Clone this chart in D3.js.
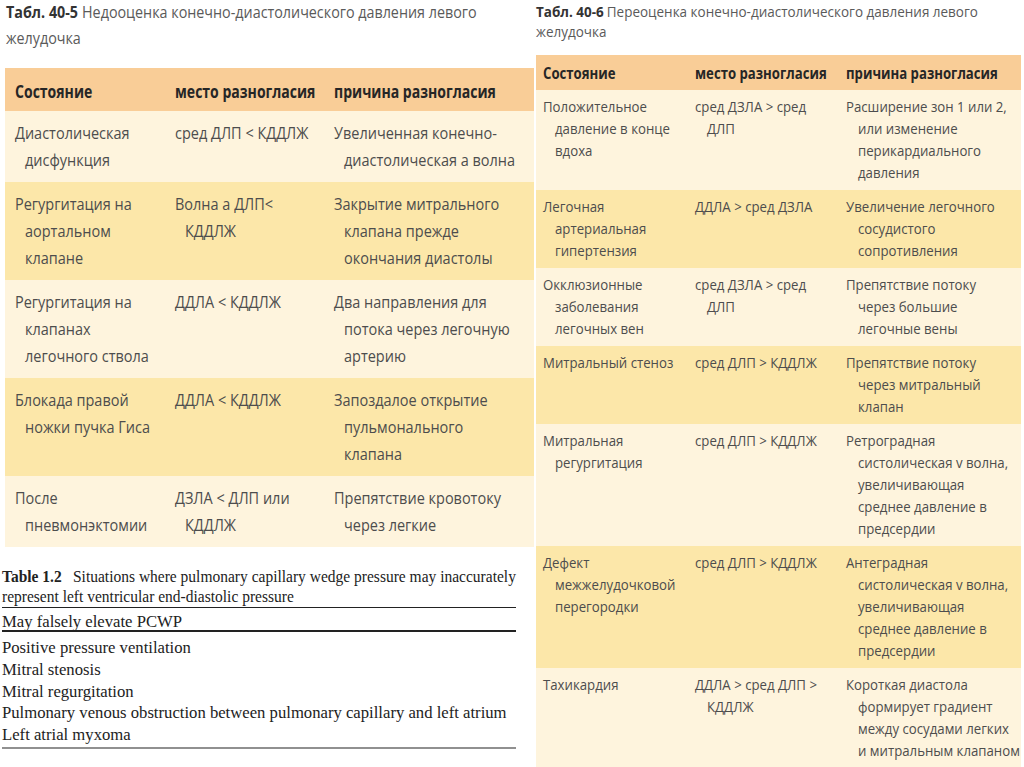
<!DOCTYPE html>
<html><head><meta charset="utf-8">
<script src="https://cdn.jsdelivr.net/npm/d3@7"></script>
<style>body{margin:0;background:#fff}svg{display:block}</style>
</head><body>
<svg id="c" width="1024" height="767"></svg>
<script>
// ---------- DATA ----------
const headers = ["Состояние", "место разногласия", "причина разногласия"];

const leftTitleBold = "Табл. 40-5";
const leftTitleLines = ["Недооценка конечно-диастолического давления левого", "желудочка"];
const leftConditions = [["Диастолическая","дисфункция"],["Регургитация на","аортальном","клапане"],["Регургитация на","клапанах","легочного ствола"],["Блокада правой","ножки пучка Гиса"],["После","пневмонэктомии"]];
const leftPlaces = [["сред ДЛП < КДДЛЖ"],["Волна а ДЛП<","КДДЛЖ"],["ДДЛА < КДДЛЖ"],["ДДЛА < КДДЛЖ"],["ДЗЛА < ДЛП  или","КДДЛЖ"]];
const leftReasons = [["Увеличенная конечно-","диастолическая а волна"],["Закрытие митрального","клапана прежде","окончания диастолы"],["Два направления для","потока через легочную","артерию"],["Запоздалое открытие","пульмонального","клапана"],["Препятствие кровотоку","через легкие"]];

const rightTitleBold = "Табл. 40-6";
const rightTitleLines = ["Переоценка конечно-диастолического давления левого", "желудочка"];
const rightConditions = [["Положительное","давление в конце","вдоха"],["Легочная","артериальная","гипертензия"],["Окклюзионные","заболевания","легочных вен"],["Митральный стеноз"],["Митральная","регургитация"],["Дефект","межжелудочковой","перегородки"],["Тахикардия"]];
const rightPlaces = [["сред ДЗЛА > сред","ДЛП"],["ДДЛА > сред ДЗЛА"],["сред ДЗЛА  > сред","ДЛП"],["сред ДЛП  > КДДЛЖ"],["сред ДЛП  > КДДЛЖ"],["сред ДЛП  > КДДЛЖ"],["ДДЛА > сред ДЛП  >","КДДЛЖ"]];
const rightReasons = [["Расширение зон 1 или 2,","или изменение","перикардиального","давления"],["Увеличение легочного","сосудистого","сопротивления"],["Препятствие потоку","через большие","легочные вены"],["Препятствие потоку","через митральный","клапан"],["Ретроградная","систолическая v волна,","увеличивающая","среднее давление в","предсердии"],["Антеградная","систолическая v волна,","увеличивающая","среднее давление в","предсердии"],["Короткая диастола","формирует градиент","между  сосудами легких","и митральным клапаном"]];

const engTitleBold = "Table 1.2";
const engTitleLines = ["Situations where pulmonary capillary wedge pressure may inaccurately", "represent left ventricular end-diastolic pressure"];
const engSubhead = "May falsely elevate PCWP";
const engItems = ["Positive pressure ventilation","Mitral stenosis","Mitral regurgitation","Pulmonary venous obstruction between pulmonary capillary and left atrium","Left atrial myxoma"];

// ---------- STYLE ----------
const SANS = "'Open Sans','Noto Sans','DejaVu Sans',sans-serif";
const SERIF = "'Liberation Serif','DejaVu Serif',serif";
const C_HEAD = "#f9cd97", C_YEL = "#fce7a9", C_CREAM = "#fef4dd";
const T_BODY = "#4d4d4d", T_HEAD = "#262626", T_TITLE = "#5a5a5a";

const svg = d3.select("#c");

function natWidth(txt, size, weight, family) {
  const t = svg.append("text").attr("font-family", family).attr("font-size", size)
    .attr("font-weight", weight).text(txt);
  const w = t.node().getComputedTextLength(); t.remove(); return w;
}
function sxFor(sample, target, size, weight, family) {
  return target / natWidth(sample, size, weight, family);
}
function putText(g, txt, x, y, o) {
  return g.append("text")
    .attr("transform", `translate(${x},${y}) scale(${o.sx},1)`)
    .attr("font-family", o.family).attr("font-size", o.size)
    .attr("font-weight", o.weight || "normal").attr("fill", o.fill)
    .text(txt);
}

function drawTable(cfg) {
  const g = svg.append("g");
  const rows = d3.zip(cfg.cond, cfg.place, cfg.reason);
  const heights = rows.map(r => cfg.pad + cfg.lineH * d3.max(r, c => c.length));
  const bodyTop = cfg.top + cfg.headerH;
  const tops = [bodyTop, ...Array.from(d3.cumsum(heights), v => v + bodyTop)];
  const fill = d3.scaleOrdinal().domain([0, 1]).range([C_CREAM, C_YEL]);
  const colX = d3.scaleOrdinal().domain([0, 1, 2]).range(cfg.colX);

  // header
  g.append("rect").attr("x", cfg.x0).attr("y", cfg.top).attr("width", cfg.x1 - cfg.x0)
    .attr("height", cfg.headerH).attr("fill", C_HEAD);
  headers.forEach((h, j) => putText(g, h, colX(j), cfg.headBase,
    {sx: cfg.hsx, family: SANS, size: cfg.hsize, weight: "bold", fill: T_HEAD}));

  // rows
  g.selectAll("rect.row").data(rows).join("rect").attr("class", "row")
    .attr("x", cfg.x0).attr("y", (d, i) => tops[i]).attr("width", cfg.x1 - cfg.x0)
    .attr("height", (d, i) => heights[i]).attr("fill", (d, i) => fill(i % 2));

  rows.forEach((r, i) => {
    r.forEach((cell, j) => {
      cell.forEach((line, k) => {
        const x = colX(j) + (k > 0 ? cfg.indent : 0);
        const y = tops[i] + cfg.pad / 2 + cfg.lineH * (k + 0.5) + cfg.size * 0.36;
        putText(g, line, x, y, {sx: cfg.sx, family: SANS, size: cfg.size, fill: T_BODY});
      });
    });
  });
}

function drawTitle(x, bases, bold, lines, size, sx, gap) {
  const g = svg.append("g");
  const tb = putText(g, bold, x, bases[0], {sx: sx, family: SANS, size: size, weight: "bold", fill: "#333"});
  const bw = tb.node().getComputedTextLength() * sx;
  putText(g, lines[0], x + bw + gap, bases[0], {sx: sx, family: SANS, size: size, fill: T_TITLE});
  putText(g, lines[1], x, bases[1], {sx: sx, family: SANS, size: size, fill: T_TITLE});
}

// ---------- LEFT TABLE ----------
const L = {
  x0: 5, x1: 534, top: 68, headerH: 43, headBase: 98,
  colX: [15, 175, 334], indent: 10, lineH: 27, pad: 17,
  size: 17, hsize: 17,
  cond: leftConditions, place: leftPlaces, reason: leftReasons
};
L.sx = sxFor("Увеличенная конечно-", 163, L.size, "normal", SANS);
L.hsx = sxFor("причина разногласия", 162, L.hsize, "bold", SANS);
drawTable(L);
drawTitle(6, [17.5, 44], leftTitleBold, leftTitleLines, 16.5,
  sxFor(leftTitleBold + " " + leftTitleLines[0], 468, 16.5, "normal", SANS), 4);

// ---------- RIGHT TABLE ----------
const R = {
  x0: 536, x1: 1021, top: 55, headerH: 35, headBase: 79,
  colX: [543, 695, 846], indent: 12, lineH: 22, pad: 12,
  size: 15, hsize: 15.5,
  cond: rightConditions, place: rightPlaces, reason: rightReasons
};
R.sx = sxFor("Расширение зон 1 или 2,", 161, R.size, "normal", SANS);
R.hsx = sxFor("причина разногласия", 152, R.hsize, "bold", SANS);
drawTable(R);
drawTitle(536, [16.5, 37], rightTitleBold, rightTitleLines, 14,
  sxFor(rightTitleBold + " " + rightTitleLines[0], 440, 14, "normal", SANS), 3);

// ---------- TABLE 1.2 ----------
const E = svg.append("g");
const eSize = 17, etSize = 16;
const eSx = sxFor(engItems[3], 505, eSize, "normal", SERIF);
const etSx = sxFor(engTitleLines[0], 443, etSize, "normal", SERIF);
putText(E, engTitleBold, 2, 581.5, {sx: etSx, family: SERIF, size: etSize, weight: "bold", fill: "#222"});
putText(E, engTitleLines[0], 73, 581.5, {sx: etSx, family: SERIF, size: etSize, fill: "#222"});
putText(E, engTitleLines[1], 2, 601.5, {sx: etSx, family: SERIF, size: etSize, fill: "#222"});
const ruleX = d3.scaleLinear().domain([0, 1]).range([2, 516]);
[[607.5, 1.2], [631, 2.2], [748, 1.2]].forEach(([y, w]) =>
  E.append("line").attr("x1", ruleX(0)).attr("x2", ruleX(1)).attr("y1", y).attr("y2", y)
    .attr("stroke", "#222").attr("stroke-width", w));
putText(E, engSubhead, 2, 626.5, {sx: eSx, family: SERIF, size: eSize, fill: "#222"});
const eY = d3.scalePoint().domain(engItems).range([653, 740]);
engItems.forEach(t => putText(E, t, 2, eY(t), {sx: eSx, family: SERIF, size: eSize, fill: "#222"}));
</script>
</body></html>
